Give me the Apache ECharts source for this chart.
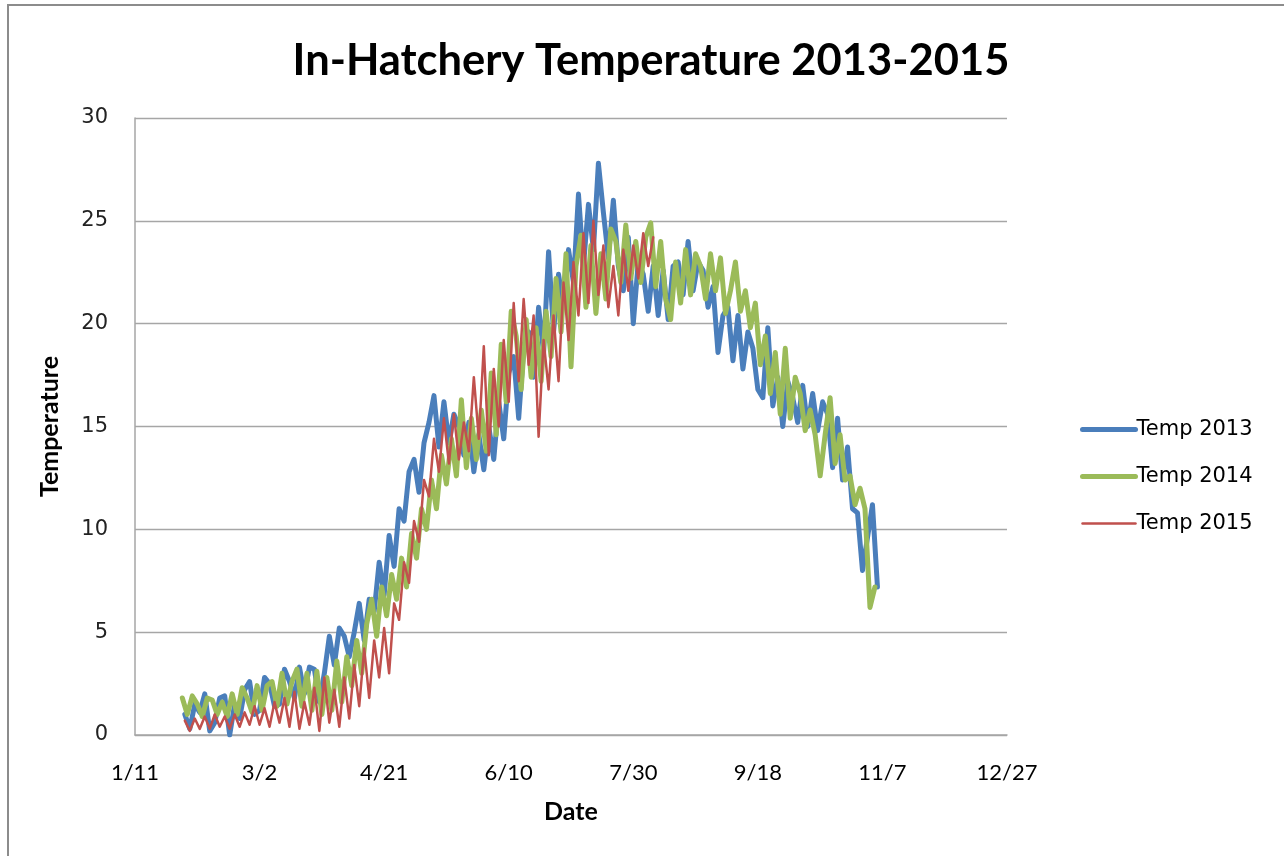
<!DOCTYPE html>
<html>
<head>
<meta charset="utf-8">
<title>In-Hatchery Temperature 2013-2015</title>
<script src="https://cdn.jsdelivr.net/npm/echarts@6/dist/echarts.min.js"></script>
<style>
    html, body { margin: 0; padding: 0; background: #fff; }
    #chart { width: 1284px; height: 856px; }
</style>
</head>
<body>
<div id="chart"></div>
<script>
    // x is day count from 1/11, one reading every 2 days
    var seriesNames = ['Temp 2013', 'Temp 2014', 'Temp 2015'];
    var start2013 = 20, start2014 = 19, start2015 = 20, stepDays = 2;

    var temp2013 = [
        1.0, 0.3, 1.5, 1.1, 2.0, 0.2, 0.6, 1.8, 1.9, 0.0,
        1.5, 0.8, 2.2, 2.6, 1.0, 1.2, 2.8, 2.5, 1.4, 1.5,
        3.2, 2.6, 1.8, 3.3, 2.0, 3.3, 3.2, 1.6, 3.0, 4.8,
        3.4, 5.2, 4.8, 3.8, 5.0, 6.4, 4.6, 6.6, 6.0, 8.4,
        6.8, 9.7, 8.2, 11.0, 10.4, 12.8, 13.4, 11.8, 14.2, 15.2,
        16.5, 14.0, 16.2, 14.2, 15.6, 15.0, 13.6, 15.2, 12.8, 14.6,
        12.9, 15.0, 13.4, 16.2, 14.4, 17.6, 18.4, 15.4, 18.8, 19.6,
        17.4, 20.8, 18.6, 23.5, 19.6, 22.4, 20.8, 23.6, 22.0, 26.3,
        22.8, 25.8, 23.6, 27.8, 25.4, 23.2, 26.0, 22.8, 21.6, 24.2,
        20.0, 23.0, 22.4, 20.6, 22.8, 20.4, 22.6, 20.2, 22.8, 23.0,
        21.4, 24.0, 21.6, 23.0, 22.6, 20.8, 21.8, 18.6, 20.4, 20.8,
        18.2, 20.4, 17.8, 19.6, 18.8, 16.8, 16.4, 19.8, 16.0, 17.4,
        15.0, 17.2, 16.4, 15.2, 17.0, 15.0, 16.6, 14.8, 16.2, 15.6,
        13.0, 15.4, 12.4, 14.0, 11.0, 10.8, 8.0, 9.6, 11.2, 7.2
    ];
    var temp2014 = [
        1.8, 1.0, 1.9, 1.5, 0.9, 1.8, 1.7, 1.0, 1.6, 0.9,
        2.0, 1.0, 2.3, 1.8, 1.1, 2.4, 1.2, 2.4, 2.6, 1.4,
        3.0, 1.5, 2.6, 3.2, 1.4, 3.0, 1.2, 3.1, 1.0, 2.8,
        1.2, 3.6, 1.6, 3.8, 2.4, 4.6, 3.0, 5.4, 6.6, 4.8,
        7.2, 5.8, 7.8, 6.6, 8.6, 7.2, 9.8, 8.6, 11.0, 10.0,
        12.4, 11.0, 13.6, 12.2, 14.4, 12.6, 16.3, 13.0, 15.4, 13.4,
        15.8, 13.8, 17.6, 14.6, 19.0, 16.2, 20.6, 19.4, 16.8, 20.2,
        17.4, 19.8, 17.2, 20.6, 18.4, 22.2, 19.6, 23.4, 17.9, 22.8,
        24.3, 20.8, 23.8, 20.5, 23.4, 21.2, 24.6, 24.0, 22.0, 24.8,
        22.2, 24.0, 22.0, 24.2, 24.9, 21.8, 24.0, 21.2, 20.2, 23.0,
        21.0, 23.6, 21.4, 23.4, 22.8, 21.2, 23.4, 21.6, 23.2, 20.5,
        21.6, 23.0, 20.6, 21.6, 19.8, 21.0, 18.0, 19.4, 16.6, 18.6,
        15.6, 18.8, 15.4, 17.4, 16.6, 14.8, 15.8, 14.6, 12.6, 14.6,
        16.4, 13.2, 14.6, 12.4, 12.6, 11.2, 12.0, 11.0, 6.2, 7.2
    ];
    var temp2015 = [
        0.7, 0.2, 0.8, 0.3, 0.9, 0.3, 1.0, 0.4, 0.9, 0.3,
        1.0, 0.4, 1.1, 0.5, 1.4, 0.5, 1.3, 0.4, 1.6, 0.6,
        1.8, 0.4, 2.1, 0.3, 1.6, 0.5, 2.3, 0.2, 2.8, 0.6,
        2.2, 0.4, 2.8, 0.8, 3.4, 1.4, 4.2, 1.8, 4.6, 2.8,
        5.2, 3.0, 6.4, 5.6, 8.4, 7.4, 10.4, 9.4, 12.4, 11.6,
        14.4, 12.8, 15.4, 13.2, 15.6, 13.4, 15.2, 13.8, 17.4, 14.4,
        18.9, 13.6, 17.8, 15.0, 19.2, 16.2, 21.0, 17.2, 21.2, 18.0,
        20.4, 14.5, 19.2, 16.8, 20.4, 17.2, 22.0, 19.2, 23.0, 20.4,
        24.4, 21.0, 25.0, 21.4, 23.8, 20.8, 22.8, 20.4, 23.6, 21.6,
        23.8, 22.2, 24.4, 22.8, 24.2
    ];

    var colors = ['#4a7ebb', '#9bbb59', '#c0504d'];
    var widths = [5, 5, 2.5];

    function toPoints(first, values) {
        var pts = [];
        for (var i = 0; i < values.length; i++) {
            pts.push([first + i * stepDays, values[i]]);
        }
        return pts;
    }

    function dayLabel(v) {
        var d = new Date(2013, 0, 11 + v);
        return (d.getMonth() + 1) + '/' + d.getDate();
    }

    var myChart = echarts.init(document.getElementById('chart'));
    var allData = [toPoints(start2013, temp2013), toPoints(start2014, temp2014), toPoints(start2015, temp2015)];

    myChart.setOption({
        animation: false,
        backgroundColor: '#fff',
        graphic: [{
            type: 'rect',
            shape: { x: 8, y: 5, width: 1300, height: 900 },
            style: { fill: 'none', stroke: '#8c8c8c', lineWidth: 2 },
            silent: true
        }],
        title: {
            text: 'In-Hatchery Temperature 2013-2015',
            left: 646,
            top: 34,
            textAlign: 'center',
            textStyle: {
                fontFamily: 'Lato',
                fontWeight: 'bold',
                fontSize: 43.5,
                color: '#000'
            }
        },
        legend: {
            orient: 'vertical',
            left: 1080,
            top: 419,
            padding: 0,
            itemWidth: 53,
            itemHeight: 14,
            itemGap: 26,
            itemStyle: { opacity: 0 },
            lineStyle: { width: 'inherit' },
            textStyle: {
                fontFamily: 'DejaVu Sans',
                fontSize: 21,
                color: '#000',
                padding: [0, 0, 0, -4]
            },
            data: seriesNames
        },
        grid: {
            left: 135,
            right: 277,
            top: 118,
            bottom: 121
        },
        xAxis: {
            type: 'value',
            min: 0,
            max: 350,
            interval: 50,
            name: 'Date',
            nameLocation: 'middle',
            nameGap: 64,
            nameTextStyle: {
                fontFamily: 'Lato',
                fontWeight: 'bold',
                fontSize: 25,
                color: '#000'
            },
            axisLine: { show: true, lineStyle: { color: '#a6a6a6', width: 1.5 } },
            axisTick: { show: false },
            splitLine: { show: false },
            axisLabel: {
                margin: 27,
                fontFamily: 'Lato',
                fontSize: 22,
                color: '#000',
                formatter: dayLabel
            }
        },
        yAxis: {
            type: 'value',
            min: 0,
            max: 30,
            interval: 5,
            name: 'Temperature',
            nameLocation: 'middle',
            nameGap: 73,
            nameTextStyle: {
                fontFamily: 'Lato',
                fontWeight: 'bold',
                fontSize: 25,
                color: '#000'
            },
            axisLine: { show: true, lineStyle: { color: '#a6a6a6', width: 1.5 } },
            axisTick: { show: false },
            splitLine: { lineStyle: { color: '#a6a6a6', width: 1.3 } },
            axisLabel: {
                margin: 27,
                fontFamily: 'DejaVu Sans',
                fontSize: 21,
                color: '#222'
            }
        },
        series: seriesNames.map(function (name, i) {
            return {
                name: name,
                type: 'line',
                data: allData[i],
                symbol: 'none',
                color: colors[i],
                lineStyle: { color: colors[i], width: widths[i], cap: 'round', join: 'round' },
                z: 2 + i
            };
        })
    });
</script>
</body>
</html>
